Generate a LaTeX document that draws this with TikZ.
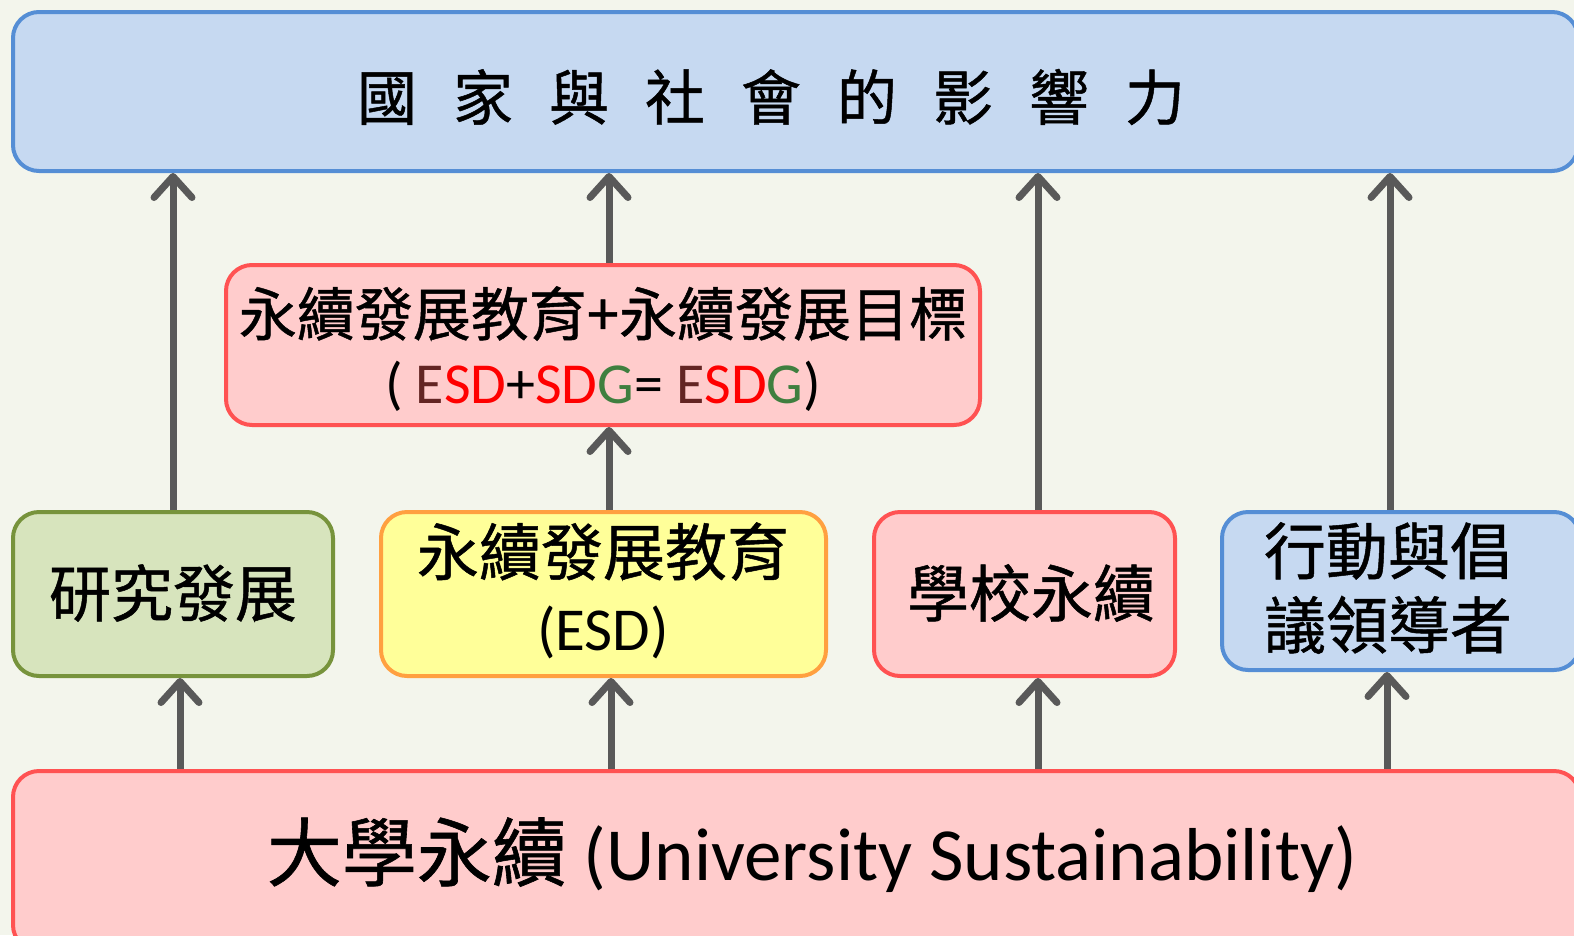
\documentclass[tikz,border=0pt]{standalone}
\usepackage{fontspec}
\setmainfont{Carlito}
\newfontfamily\cjk[FakeBold=0.8]{Noto Sans CJK TC}
\usetikzlibrary{arrows.meta,calc}
\definecolor{bgc}{HTML}{F3F5EC}
\definecolor{bluefill}{HTML}{C6D9F1}
\definecolor{bluebd}{HTML}{558ED5}
\definecolor{pinkfill}{HTML}{FFCCCC}
\definecolor{redbd}{HTML}{FF5252}
\definecolor{greenfill}{HTML}{D7E4BD}
\definecolor{greenbd}{HTML}{77933C}
\definecolor{yellowfill}{HTML}{FFFF99}
\definecolor{orangebd}{HTML}{FFA040}
\definecolor{arrowgray}{HTML}{595959}
\definecolor{esdbrown}{HTML}{632523}
\definecolor{esdred}{HTML}{FF0000}
\definecolor{esdgreen}{HTML}{3F7F3F}
\newcommand{\tgap}{\hspace{36pt}}
\begin{document}
\begin{tikzpicture}[x=1pt,y=-1pt,
  box/.style={draw, rounded corners=26pt, line width=4pt, inner sep=0pt, align=center, text=black},
  bluebox/.style={box, draw=bluebd, fill=bluefill},
  pinkbox/.style={box, draw=redbd, fill=pinkfill},
  greenbox/.style={box, draw=greenbd, fill=greenfill},
  yellowbox/.style={box, draw=orangebd, fill=yellowfill},
  cjk62/.style={font=\cjk\fontsize{62}{75}\selectfont, align=center},
  arr/.style={draw=arrowgray, line width=7pt, -{Straight Barb[length=21pt,width=38pt,round]}}]
\useasboundingbox (0,0) rectangle (1574,935);
\clip (0,0) rectangle (1574,935);
\fill[bgc] (0,0) rectangle (1574,935);

% top box
\node[bluebox, minimum width=1565pt, minimum height=159pt] (top) at (795.5,91.5) {};
\node[font=\cjk\fontsize{60}{60}\selectfont] (title) at (771,97) {國\tgap 家\tgap 與\tgap 社\tgap 會\tgap 的\tgap 影\tgap 響\tgap 力};

% middle box
\node[pinkbox, minimum width=754pt, minimum height=160pt] (mid) at (603,345) {};
\node[align=center, font=\fontsize{58}{68}\selectfont] (midtext) at (603,349)
  {{\cjk\fontsize{58}{68}\selectfont 永續發展教育+永續發展目標}\\
   ( \textcolor{esdbrown}{E}\textcolor{esdred}{SD}+\textcolor{esdred}{SD}\textcolor{esdgreen}{G}= \textcolor{esdbrown}{E}\textcolor{esdred}{SD}\textcolor{esdgreen}{G})};

% row boxes
\node[greenbox, minimum width=320pt, minimum height=164pt] (green) at (173,594) {};
\node[cjk62] (greentext) at (173,593) {研究發展};

\node[yellowbox, minimum width=445pt, minimum height=164pt] (yellow) at (603.5,594) {};
\node[align=center, font=\fontsize{61}{75}\selectfont] (yellowtext) at (603,590.5)
  {{\cjk\fontsize{62}{75}\selectfont 永續發展教育}\\(ESD)};

\node[pinkbox, minimum width=301pt, minimum height=164pt] (school) at (1024.5,594) {};
\node[cjk62] (schooltext) at (1031,593) {學校永續};

\node[bluebox, minimum width=358pt, minimum height=158pt] (blue) at (1401,591) {};
\node[cjk62, font=\cjk\fontsize{62}{74}\selectfont] (bluetext) at (1388,588) {行動與倡\\議領導者};

% bottom box
\node[pinkbox, minimum width=1567pt, minimum height=180pt] (bottom) at (796.5,861) {};
\node[font=\fontsize{75}{80}\selectfont] (bottomtext) at (812,855) {{\cjk 大學永續} (University Sustainability)};

% arrows to top
\draw[arr] (green.north) -- (green.north |- top.south);
\draw[arr] ([xshift=6pt]mid.north) -- ([xshift=6pt]mid.north |- top.south);
\draw[arr] ([xshift=5.5pt]yellow.north) -- ([xshift=5.5pt]yellow.north |- mid.south);
\draw[arr] ([xshift=13.5pt]school.north) -- ([xshift=13.5pt]school.north |- top.south);
\draw[arr] ([xshift=-11pt]blue.north) -- ([xshift=-11pt]blue.north |- top.south);

% arrows from bottom
\draw[arr] ([xshift=7pt]green.south |- bottom.north) -- ([xshift=7pt]green.south);
\draw[arr] ([xshift=7.5pt]yellow.south |- bottom.north) -- ([xshift=7.5pt]yellow.south);
\draw[arr] ([xshift=13.5pt]school.south |- bottom.north) -- ([xshift=13.5pt]school.south);
\draw[arr] ([xshift=-14pt]blue.south |- bottom.north) -- ([xshift=-14pt]blue.south);
\end{tikzpicture}
\end{document}
